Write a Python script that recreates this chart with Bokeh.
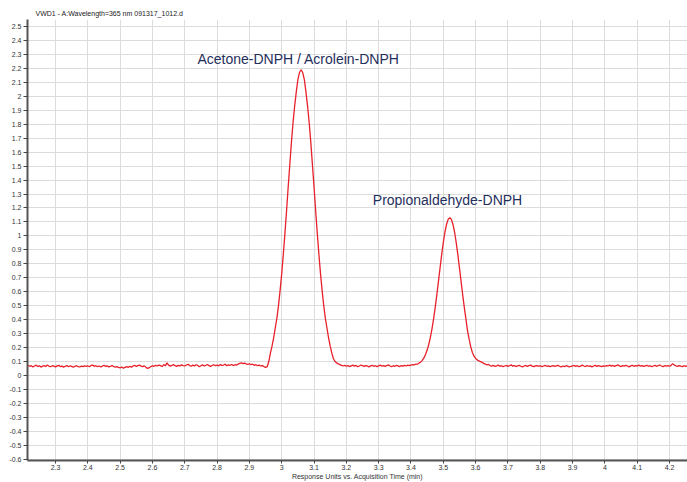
from bokeh.plotting import figure
from bokeh.models import Label, CustomJSTickFormatter, FixedTicker, Range1d, ColumnDataSource
from bokeh.embed import file_html
from bokeh.resources import INLINE

# ---- data ----
chart_title = "VWD1 - A:Wavelength=365 nm 091317_1012.d"
x_axis_title = "Response Units vs. Acquisition Time (min)"
peak_names = ["Acetone-DNPH / Acrolein-DNPH", "Propionaldehyde-DNPH"]
peak_times = [3.06, 3.52]
peak_heights = [2.19, 1.13]

time_start = 2.215   # min
time_step = 0.005    # min
response = [
    # 2.215 - 2.295
    0.072, 0.066, 0.070, 0.061, 0.068, 0.074, 0.065, 0.069, 0.060, 0.067, 0.071, 0.064, 0.076, 0.066, 0.063, 0.070, 0.067,
    # 2.30
    0.062, 0.069, 0.073, 0.064, 0.067, 0.060, 0.066, 0.071, 0.063, 0.068, 0.065, 0.059, 0.066, 0.070, 0.064, 0.061, 0.067, 0.063, 0.069, 0.065,
    # 2.40
    0.068, 0.063, 0.072, 0.075, 0.066, 0.070, 0.064, 0.068, 0.061, 0.067, 0.073, 0.065, 0.069, 0.062, 0.066, 0.071, 0.064, 0.060, 0.063, 0.058,
    # 2.50
    0.055, 0.061, 0.052, 0.058, 0.063, 0.057, 0.066, 0.060, 0.068, 0.072, 0.065, 0.070, 0.074, 0.067, 0.063, 0.069, 0.058, 0.050, 0.056, 0.064,
    # 2.60
    0.070, 0.066, 0.073, 0.068, 0.075, 0.071, 0.064, 0.078, 0.069, 0.090, 0.074, 0.067, 0.072, 0.079, 0.070, 0.065, 0.073, 0.069, 0.076, 0.071,
    # 2.70
    0.068, 0.075, 0.080, 0.071, 0.066, 0.074, 0.069, 0.077, 0.072, 0.063, 0.070, 0.076, 0.068, 0.073, 0.079, 0.070, 0.065, 0.072, 0.077, 0.071,
    # 2.80
    0.074, 0.069, 0.078, 0.072, 0.075, 0.081, 0.070, 0.076, 0.073, 0.079, 0.071, 0.077, 0.074, 0.082, 0.087, 0.091, 0.085, 0.089, 0.083, 0.080,
    # 2.90
    0.084, 0.078, 0.081, 0.073, 0.077, 0.070, 0.074, 0.068, 0.071, 0.064, 0.058, 0.063, 0.100, 0.160, 0.210, 0.270, 0.340, 0.410, 0.500, 0.610,
    # 3.00
    0.730, 0.870, 1.020, 1.180, 1.350, 1.510, 1.670, 1.810, 1.930, 2.030, 2.120, 2.170, 2.190, 2.170, 2.120, 2.030, 1.930, 1.810, 1.670, 1.510,
    # 3.10
    1.350, 1.180, 1.020, 0.870, 0.730, 0.610, 0.500, 0.410, 0.340, 0.270, 0.210, 0.160, 0.120, 0.100, 0.090, 0.083, 0.078, 0.072, 0.068, 0.073,
    # 3.20
    0.066, 0.071, 0.064, 0.069, 0.074, 0.067, 0.072, 0.063, 0.068, 0.075, 0.070, 0.065, 0.071, 0.068, 0.062, 0.069, 0.073, 0.066, 0.070, 0.064,
    # 3.30
    0.069, 0.074, 0.067, 0.071, 0.065, 0.070, 0.076, 0.068, 0.063, 0.070, 0.066, 0.072, 0.069, 0.064, 0.071, 0.067, 0.073, 0.068, 0.074, 0.070,
    # 3.40
    0.074, 0.078, 0.076, 0.082, 0.081, 0.089, 0.096, 0.108, 0.126, 0.150, 0.182, 0.222, 0.273, 0.334, 0.406, 0.488, 0.578, 0.674, 0.771, 0.866,
    # 3.50
    0.952, 1.026, 1.082, 1.118, 1.130, 1.118, 1.082, 1.026, 0.952, 0.866, 0.771, 0.674, 0.578, 0.488, 0.406, 0.320, 0.260, 0.205, 0.165, 0.138,
    # 3.60
    0.122, 0.112, 0.104, 0.099, 0.094, 0.087, 0.082, 0.076, 0.079, 0.071, 0.067, 0.072, 0.065, 0.069, 0.074, 0.066, 0.070, 0.063, 0.068, 0.072,
    # 3.70
    0.065, 0.070, 0.076, 0.067, 0.071, 0.064, 0.069, 0.073, 0.066, 0.061, 0.068, 0.072, 0.065, 0.070, 0.074, 0.067, 0.063, 0.069, 0.071, 0.066,
    # 3.80
    0.070, 0.064, 0.068, 0.072, 0.066, 0.069, 0.063, 0.067, 0.071, 0.065, 0.069, 0.073, 0.066, 0.062, 0.068, 0.064, 0.070, 0.067, 0.061, 0.066,
    # 3.90
    0.069, 0.072, 0.065, 0.070, 0.063, 0.067, 0.074, 0.068, 0.064, 0.071, 0.066, 0.069, 0.062, 0.068, 0.073, 0.065, 0.070, 0.067, 0.063, 0.069,
    # 4.00
    0.066, 0.071, 0.068, 0.074, 0.067, 0.072, 0.065, 0.070, 0.076, 0.069, 0.064, 0.071, 0.067, 0.073, 0.068, 0.062, 0.069, 0.072, 0.066, 0.070,
    # 4.10
    0.068, 0.074, 0.067, 0.071, 0.065, 0.069, 0.073, 0.066, 0.070, 0.063, 0.068, 0.072, 0.066, 0.070, 0.075, 0.068, 0.064, 0.070, 0.067, 0.071,
    # 4.20 - 4.255
    0.066, 0.072, 0.085, 0.074, 0.069, 0.065, 0.071, 0.067, 0.064, 0.070, 0.066, 0.069,
]
x_ticks = [round(2.3 + 0.1 * i, 1) for i in range(20)]
y_ticks = [round(-0.6 + 0.1 * i, 1) for i in range(32)]

times = [round(time_start + time_step * i, 4) for i in range(len(response))]
src = ColumnDataSource(data=dict(t=times, r=response))

FONT = "Liberation Sans"
NAVY = "#1f2f5c"

p = figure(width=687, height=482, output_backend="svg", toolbar_location=None,
           x_range=Range1d(2.2133, 4.2557), y_range=Range1d(-0.609, 2.55),
           min_border_left=27, min_border_right=0, min_border_top=19, min_border_bottom=0)
p.outline_line_color = None
p.background_fill_color = "white"

p.title.text = chart_title
p.title.text_font = FONT
p.title.text_font_size = "7px"
p.title.text_font_style = "normal"
p.title.text_color = "#222222"
p.title.align = "left"
p.title.offset = 8
p.title.standoff = 6

p.line("t", "r", source=src, line_color="#e8202a", line_width=1.3)

fmt = CustomJSTickFormatter(code="return String(Number(tick.toFixed(2)));")
for ax, ticks in ((p.xaxis[0], x_ticks), (p.yaxis[0], y_ticks)):
    ax.ticker = FixedTicker(ticks=ticks)
    ax.formatter = fmt
    ax.major_label_text_font = FONT
    ax.major_label_text_font_size = "7px"
    ax.major_label_text_color = "#333333"
    ax.axis_line_color = "#555555"
    ax.axis_line_width = 2
    ax.major_tick_line_color = "#444444"
    ax.major_tick_out = 4
    ax.major_tick_in = 0
    ax.minor_tick_line_color = None
    ax.major_label_standoff = 2

p.xaxis[0].major_tick_out = 3
p.xaxis[0].major_label_standoff = 1
p.xaxis[0].axis_label = x_axis_title
p.xaxis[0].axis_label_text_font = FONT
p.xaxis[0].axis_label_text_font_size = "7px"
p.xaxis[0].axis_label_text_font_style = "normal"
p.xaxis[0].axis_label_text_color = "#333333"
p.xaxis[0].axis_label_standoff = 0

p.xgrid.ticker = FixedTicker(ticks=x_ticks)
p.ygrid.ticker = FixedTicker(ticks=y_ticks)
for g in (p.xgrid[0], p.ygrid[0]):
    g.grid_line_color = "#dcdcdc"
    g.grid_line_width = 1

# peak annotations
label_pos = [(3.052, 2.21), (3.513, 1.20)]
for name, (lx, ly) in zip(peak_names, label_pos):
    p.add_layout(Label(x=lx, y=ly, text=name, text_font=FONT, text_font_size="14px",
                       text_color=NAVY, text_align="center", text_baseline="bottom"))

open("out.html", "w").write(file_html(p, INLINE))
